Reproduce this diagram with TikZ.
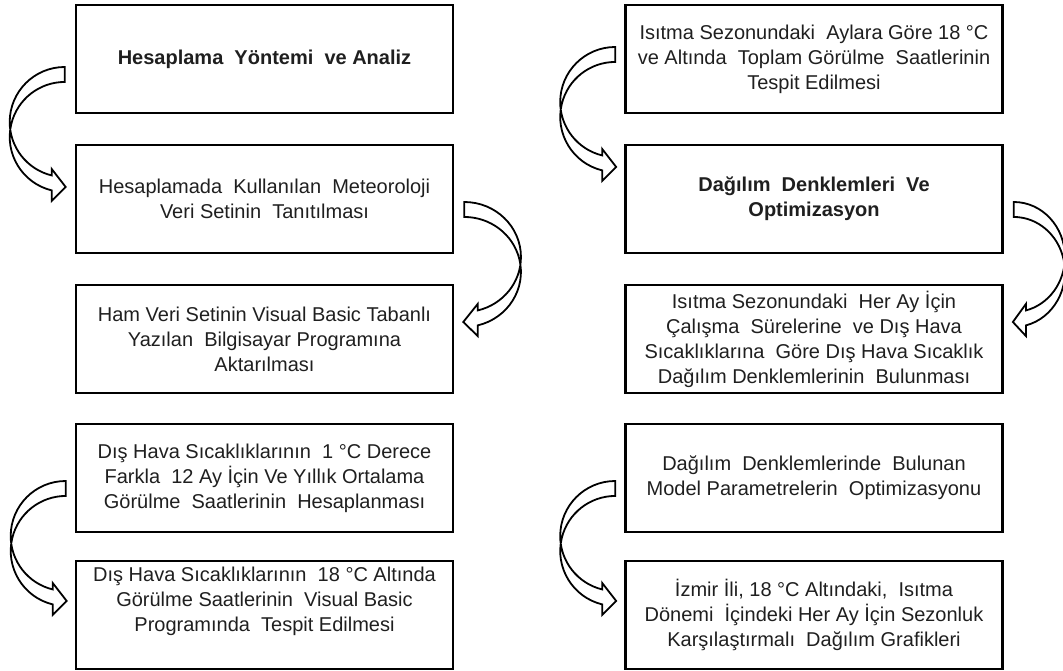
\documentclass[tikz,border=0pt]{standalone}
\usepackage{fontspec}
\setmainfont{Liberation Sans}
\usetikzlibrary{calc}
\tikzset{
  box/.style={draw=black, line width=2.6pt, minimum width=377pt, minimum height=108pt,
    align=center, font={\fontsize{20}{25}\selectfont}, text=black!88, inner sep=0pt},
  txt/.style={align=center, font={\fontsize{20}{25}\selectfont}, text=black!88, inner sep=0pt},
  barrow/.style={draw=black, fill=white, line width=1.8pt, line join=miter}
}
\newcommand\bentarrow[2]{%
  \begin{scope}[shift={#1}, xscale=#2]
    \draw[barrow] (0,0) arc[start angle=90, end angle=256.3, x radius=55pt, y radius=55pt]
      -- (-13,-102) -- (1,-120) -- (-13,-134) -- (-13,-123.4)
      arc[start angle=256.3, end angle=90, x radius=55pt, y radius=55pt] -- cycle;
  \end{scope}}
\begin{document}
\begin{tikzpicture}[x=1pt, y=1pt]
\useasboundingbox (0,0) rectangle (1063,-671);
% left column
\node[box] (b1) at (264.5,-59) {\textbf{Hesaplama~ Yöntemi~ ve Analiz}};
\node[box] (b2) at (264.5,-199) {Hesaplamada~ Kullanılan~ Meteoroloji\\Veri Setinin~ Tanıtılması};
\node[box] (b3) at (264.5,-339) {Ham Veri Setinin Visual Basic Tabanlı\\Yazılan~ Bilgisayar Programına\\Aktarılması};
\node[box] (b4) at (264.5,-478) {Dış Hava Sıcaklıklarının~ 1 °C Derece\\Farkla~ 12 Ay İçin Ve Yıllık Ortalama\\Görülme~ Saatlerinin~ Hesaplanması};
\node[box] (b5) at (264.5,-615) {};
\node[txt] (b5t) at (264.5,-601) {Dış Hava Sıcaklıklarının~ 18 °C Altında\\Görülme Saatlerinin~ Visual Basic\\Programında~ Tespit Edilmesi};
% right column
\node[box] (r1) at (814,-59) {Isıtma Sezonundaki~ Aylara Göre 18 °C\\ve Altında~ Toplam Görülme~ Saatlerinin\\Tespit Edilmesi};
\node[box] (r2) at (814,-199) {\textbf{Dağılım~ Denklemleri~ Ve}\\\textbf{Optimizasyon}};
\node[box] (r3) at (814,-339) {Isıtma Sezonundaki~ Her Ay İçin\\Çalışma~ Sürelerine~ ve Dış Hava\\Sıcaklıklarına~ Göre Dış Hava Sıcaklık\\Dağılım Denklemlerinin~ Bulunması};
\node[box] (r4) at (814,-478) {Dağılım~ Denklemlerinde~ Bulunan\\Model Parametrelerin~ Optimizasyonu};
\node[box] (r5) at (814,-615) {İzmir İli, 18 °C Altındaki,~ Isıtma\\Dönemi~ İçindeki Her Ay İçin Sezonluk\\Karşılaştırmalı~ Dağılım Grafikleri};
% curved block arrows
\bentarrow{($(b1.west)+(-10,-8)$)}{1}
\bentarrow{($(b2.east)+(10,-3)$)}{-1.03}
\bentarrow{($(b4.west)+(-9,-3)$)}{1}
\bentarrow{($(r1.west)+(-9,12)$)}{1}
\bentarrow{($(r2.east)+(10,-3)$)}{-0.93}
\bentarrow{($(r4.west)+(-9,-3)$)}{1}
\end{tikzpicture}
\end{document}
